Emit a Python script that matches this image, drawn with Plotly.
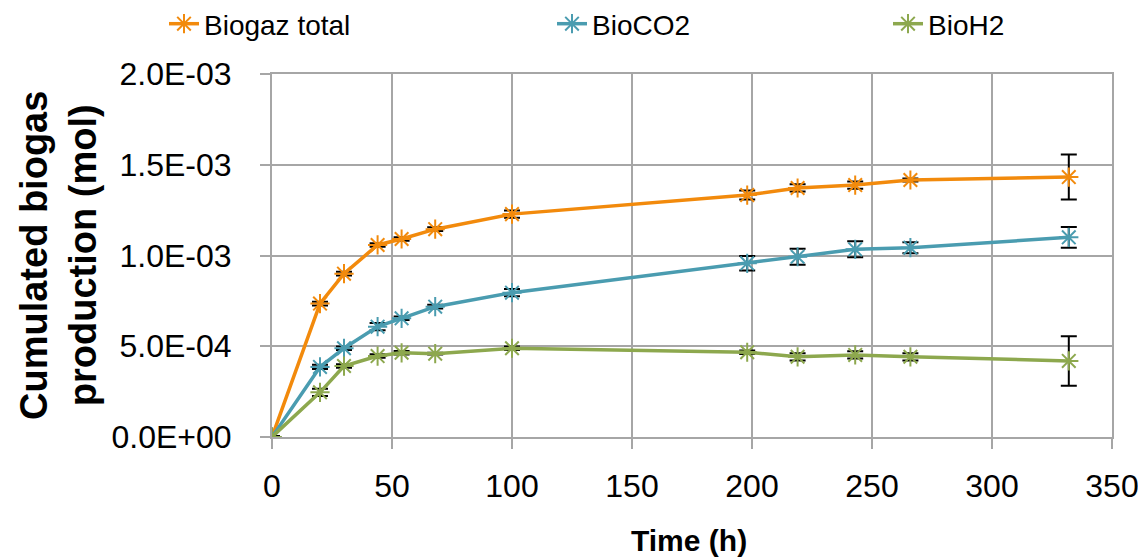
import plotly.graph_objects as go

time_h = [0, 20, 30, 44, 54, 68, 100, 198, 219, 243, 266, 332]

biogaz_total = [0, 0.735e-3, 0.900e-3, 1.058e-3, 1.091e-3, 1.145e-3, 1.228e-3, 1.333e-3, 1.372e-3, 1.388e-3, 1.416e-3, 1.432e-3]
biogaz_total_err = [0.005e-3, 0.010e-3, 0.010e-3, 0.010e-3, 0.010e-3, 0.010e-3, 0.020e-3, 0.025e-3, 0.020e-3, 0.020e-3, 0.008e-3, 0.124e-3]

bio_co2 = [0, 0.386e-3, 0.489e-3, 0.608e-3, 0.654e-3, 0.718e-3, 0.795e-3, 0.957e-3, 0.993e-3, 1.034e-3, 1.043e-3, 1.100e-3]
bio_co2_err = [0.005e-3, 0.012e-3, 0.010e-3, 0.020e-3, 0.010e-3, 0.010e-3, 0.020e-3, 0.040e-3, 0.044e-3, 0.044e-3, 0.030e-3, 0.057e-3]

bio_h2 = [0, 0.246e-3, 0.391e-3, 0.446e-3, 0.464e-3, 0.459e-3, 0.489e-3, 0.467e-3, 0.442e-3, 0.452e-3, 0.442e-3, 0.419e-3]
bio_h2_err = [0.005e-3, 0.020e-3, 0.010e-3, 0.010e-3, 0.010e-3, 0.005e-3, 0.010e-3, 0.010e-3, 0.020e-3, 0.020e-3, 0.020e-3, 0.136e-3]

series_names = ["Biogaz total", "BioCO2", "BioH2"]
series_colors = ["#F28A0C", "#4A9CB0", "#8DA84E"]

y_tickvals = [0, 0.5e-3, 1.0e-3, 1.5e-3, 2.0e-3]
y_ticktext = ["0.0E+00", "5.0E-04", "1.0E-03", "1.5E-03", "2.0E-03"]
x_tickvals = [0, 50, 100, 150, 200, 250, 300, 350]

FONT = "Liberation Sans, Arial, sans-serif"
NARROW = "Liberation Sans Narrow, Arial Narrow, Liberation Sans, sans-serif"

# The page body has an 8px margin, so the figure starts at (8, 8) on screen.
OFF = 8
W, H = 1146 - OFF, 559 - OFF
# plot area in screen pixels: x 272..1112, y 74..437
SL, SR, ST, SB = 272, 1112, 74, 437
PL, PR, PT, PB = SL - OFF, SR - OFF, ST - OFF, SB - OFF
def px_x(sx):
    return (sx - SL) / (SR - SL)
def px_y(sy):
    return (SB - sy) / (SB - ST)

fig = go.Figure()
data = [(biogaz_total, biogaz_total_err), (bio_co2, bio_co2_err), (bio_h2, bio_h2_err)]
legends = ["legend", "legend2", "legend3"]
for (vals, errs), name, color, lg in zip(data, series_names, series_colors, legends):
    fig.add_trace(go.Scatter(
        x=time_h, y=vals, name=name, mode="lines+markers",
        line=dict(color=color, width=3.5),
        marker=dict(symbol="asterisk-open", size=16, color=color, line=dict(color=color, width=2)),
        error_y=dict(type="data", array=errs, visible=True, color="black", thickness=2, width=8),
        legend=lg, showlegend=True,
    ))

gray = "#A6A6A6"
leg_common = dict(orientation="h", xref="paper", yref="paper", xanchor="left", yanchor="middle",
                  font=dict(size=28, family=FONT), bgcolor="rgba(0,0,0,0)")
fig.update_layout(
    width=W, height=H,
    paper_bgcolor="white", plot_bgcolor="white",
    showlegend=True,
    margin=dict(l=PL, r=W - PR, t=PT, b=H - PB, autoexpand=False),
    font=dict(family=FONT, color="black"),
    xaxis=dict(
        range=[0, 350], tickvals=x_tickvals, showgrid=True, gridcolor=gray, gridwidth=2,
        showline=True, linecolor=gray, linewidth=2, mirror=True,
        ticks="outside", ticklen=10, tickcolor=gray, tickwidth=2,
        tickfont=dict(size=32), zeroline=False, ticklabelstandoff=10, automargin=False,
    ),
    yaxis=dict(
        range=[0, 2.0e-3], tickvals=y_tickvals, ticktext=y_ticktext,
        showgrid=True, gridcolor=gray, gridwidth=2,
        showline=True, linecolor=gray, linewidth=2, mirror=True,
        ticks="outside", ticklen=10, tickcolor=gray, tickwidth=2,
        tickfont=dict(size=32), zeroline=False, ticklabelstandoff=22, automargin=False,
    ),
    legend=dict(x=px_x(164), y=px_y(24), **leg_common),
    legend2=dict(x=px_x(552), y=px_y(24), **leg_common),
    legend3=dict(x=px_x(888), y=px_y(24), **leg_common),
    annotations=[
        dict(text="<b>Cumulated biogas<br>production (mol)</b>", textangle=-90,
             xref="paper", yref="paper", x=px_x(59), y=px_y(256),
             xanchor="center", yanchor="middle", showarrow=False,
             font=dict(size=38, family=NARROW)),
        dict(text="<b>Time (h)</b>",
             xref="paper", yref="paper", x=px_x(689), y=px_y(540),
             xanchor="center", yanchor="middle", showarrow=False,
             font=dict(size=30, family=FONT)),
    ],
)

fig.write_html("out.html")
